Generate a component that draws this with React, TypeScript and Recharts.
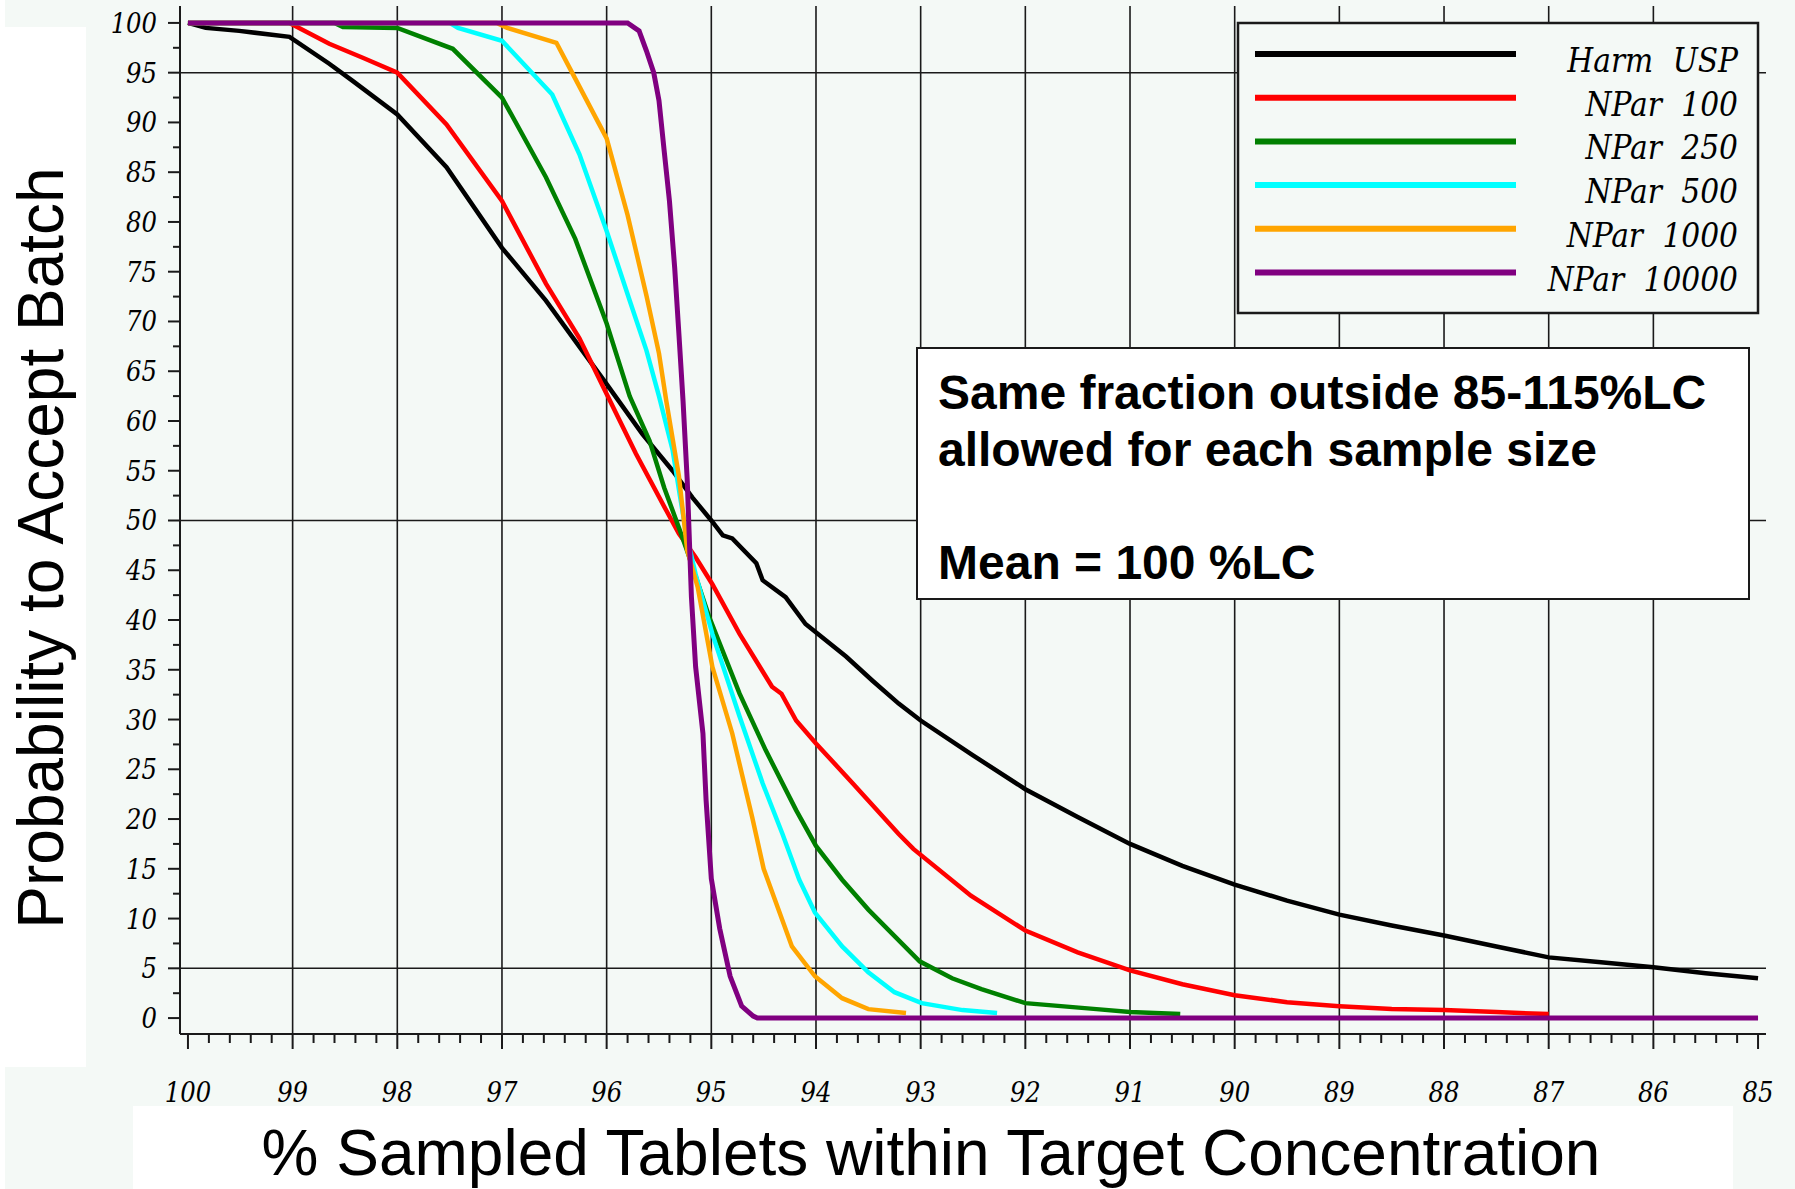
import { LineChart, Line, XAxis, YAxis, CartesianGrid } from 'recharts';

const W = 1795;
const H = 1189;
const ink = '#1a1a1a';
const mint = '#f4f9f6';
const tickFont = "'DejaVu Serif Condensed', 'DejaVu Serif', serif";
const titleFont = "'Liberation Sans', Arial, sans-serif";

const harmUsp = [
  [100, 100], [99.83, 99.5], [99.51, 99.2], [99.03, 98.6], [98.65, 95.9], [98.43, 94.2],
  [98.0, 90.8], [97.53, 85.5], [97.0, 77.4], [96.58, 72.1], [96.0, 63.7], [95.66, 58.7],
  [95.37, 55.0], [95.18, 52.3], [95.0, 50.0], [94.89, 48.5], [94.8, 48.2], [94.57, 45.7],
  [94.51, 44.0], [94.29, 42.3], [94.1, 39.6], [93.71, 36.3], [93.46, 33.9], [93.21, 31.6],
  [93.0, 29.9], [92.5, 26.4], [92.0, 23.0], [91.5, 20.2], [91.0, 17.5], [90.5, 15.3],
  [90.0, 13.4], [89.5, 11.8], [89.0, 10.4], [88.5, 9.3], [88.0, 8.3], [87.5, 7.2],
  [87.0, 6.1], [86.5, 5.6], [86.0, 5.1], [85.5, 4.5], [85.0, 4.0],
];

const npar100 = [
  [100, 100], [99.03, 100], [98.65, 97.9], [98.33, 96.5], [98.0, 95.0], [97.53, 89.8],
  [97.0, 82.1], [96.58, 73.8], [96.26, 68.3], [96.0, 62.7], [95.72, 56.7], [95.43, 51.0],
  [95.31, 48.7], [95.15, 46.3], [94.99, 43.6], [94.73, 38.6], [94.42, 33.3], [94.33, 32.6],
  [94.19, 29.9], [94.0, 27.6], [93.65, 23.6], [93.21, 18.5], [93.07, 17.0], [92.52, 12.3],
  [92.0, 8.8], [91.5, 6.6], [91.0, 4.8], [90.5, 3.4], [90.0, 2.3], [89.5, 1.6],
  [89.0, 1.2], [88.5, 0.9], [88.0, 0.8], [87.5, 0.6], [87.0, 0.4],
];

const npar250 = [
  [100, 100], [98.6, 100], [98.52, 99.6], [98.0, 99.5], [97.47, 97.4], [97.0, 92.5],
  [96.58, 84.5], [96.3, 78.3], [96.0, 69.8], [95.78, 62.5], [95.59, 58.0], [95.45, 53.3],
  [95.3, 49.0], [95.21, 46.3], [95.02, 40.3], [94.73, 32.6], [94.48, 26.9], [94.19, 20.9],
  [94.0, 17.3], [93.75, 13.9], [93.5, 10.9], [93.01, 5.7], [92.7, 4.0], [92.42, 2.9],
  [92.0, 1.5], [91.32, 0.9], [91.0, 0.6], [90.52, 0.4],
];

const npar500 = [
  [100, 100], [97.5, 100], [97.42, 99.5], [97.0, 98.2], [96.52, 92.8], [96.26, 86.8],
  [96.0, 79.1], [95.78, 72.1], [95.62, 67.1], [95.5, 62.5], [95.37, 57.1], [95.3, 52.5],
  [95.24, 48.7], [95.15, 44.6], [94.99, 38.6], [94.73, 30.3], [94.51, 23.6], [94.32, 18.5],
  [94.16, 13.9], [94.01, 10.6], [93.75, 7.2], [93.5, 4.6], [93.25, 2.6], [92.99, 1.5],
  [92.6, 0.8], [92.27, 0.5],
];

const npar1000 = [
  [100, 100], [97.05, 100], [96.95, 99.5], [96.48, 98.0], [96.32, 94.8], [96.0, 88.4],
  [95.8, 80.7], [95.62, 72.6], [95.5, 66.8], [95.43, 62.0], [95.31, 54.5], [95.23, 47.0],
  [95.13, 43.3], [94.99, 35.3], [94.8, 28.6], [94.61, 20.2], [94.5, 15.0], [94.23, 7.2],
  [94.01, 4.2], [93.75, 2.0], [93.5, 0.9], [93.14, 0.5],
];

const npar10000 = [
  [100, 100], [95.8, 100], [95.69, 99.2], [95.62, 97.2], [95.55, 95.0], [95.5, 92.2],
  [95.45, 87.1], [95.4, 82.1], [95.35, 75.4], [95.31, 68.8], [95.27, 62.0], [95.23, 54.0],
  [95.19, 42.3], [95.15, 35.3], [95.08, 28.6], [95.05, 21.9], [95.0, 14.0], [94.92, 9.0],
  [94.82, 4.2], [94.71, 1.2], [94.6, 0.2], [94.56, 0], [85.0, 0],
];

const seriesNames = ['Harm USP', 'NPar 100', 'NPar 250', 'NPar 500', 'NPar 1000', 'NPar 10000'];
const seriesColors = ['#000000', '#ff0000', '#008000', '#00ffff', '#ffa500', '#800080'];
const seriesPoints = [harmUsp, npar100, npar250, npar500, npar1000, npar10000];

const xMajorTicks = [100, 99, 98, 97, 96, 95, 94, 93, 92, 91, 90, 89, 88, 87, 86, 85];
const yMajorTicks = [0, 5, 10, 15, 20, 25, 30, 35, 40, 45, 50, 55, 60, 65, 70, 75, 80, 85, 90, 95, 100];
const xGridValues = [99, 98, 97, 96, 95, 94, 93, 92, 91, 90, 89, 88, 87, 86];
const yGridValues = [5, 50, 95];

const noteLines = ['Same fraction outside 85-115%LC', 'allowed for each sample size', '', 'Mean = 100 %LC'];

// minor ticks: 5 per unit on x, every 2.5 on y
const xTicks: number[] = [];
xMajorTicks.forEach((t, i) => {
  xTicks.push(t);
  if (i < xMajorTicks.length - 1) {
    for (let k = 1; k < 5; k++) xTicks.push(Math.round((t - k * 0.2) * 10) / 10);
  }
});
const yTicks: number[] = [];
yMajorTicks.forEach((t, i) => {
  yTicks.push(t);
  if (i < yMajorTicks.length - 1) yTicks.push(t + 2.5);
});

const lineData = seriesPoints.map((pts) => pts.map(([x, y]) => ({ x, y })));

function YTick(props: any) {
  const { x, y, payload } = props;
  const v = payload.value;
  const major = v % 5 === 0;
  return (
    <g>
      <line x1={x - (major ? 12 : 7)} y1={y} x2={x} y2={y} stroke={ink} strokeWidth={2} />
      {major && (
        <text
          x={x - 23}
          y={y + 10}
          textAnchor="end"
          fontFamily={tickFont}
          fontStyle="italic"
          fontSize={27}
          fill="#000"
          style={{ fontStretch: 'condensed' }}
        >
          {v}
        </text>
      )}
    </g>
  );
}

function XTick(props: any) {
  const { x, y, payload } = props;
  const v = payload.value;
  const major = Number.isInteger(v);
  return (
    <g>
      <line x1={x} y1={y} x2={x} y2={y + (major ? 15 : 9)} stroke={ink} strokeWidth={2} />
      {major && (
        <text
          x={x}
          y={y + 68}
          textAnchor="middle"
          fontFamily={tickFont}
          fontStyle="italic"
          fontSize={27}
          fill="#000"
          style={{ fontStretch: 'condensed' }}
        >
          {v}
        </text>
      )}
    </g>
  );
}

export default function App() {
  return (
    <div style={{ position: 'absolute', left: 0, top: 0, width: W, height: H, background: '#fff', overflow: 'hidden' }}>
      {/* background panels */}
      <div style={{ position: 'absolute', left: 5, top: 0, width: W - 5, height: H, background: mint }} />
      <div style={{ position: 'absolute', left: 0, top: 27, width: 86, height: 1040, background: '#fff' }} />
      <div style={{ position: 'absolute', left: 133, top: 1106, width: 1600, height: 83, background: '#fff' }} />

      <div style={{ position: 'absolute', left: 0, top: 0 }}>
        <LineChart width={W} height={H} margin={{ top: 6, right: 29, bottom: 95, left: 100 }}>
          <CartesianGrid
            horizontalValues={yGridValues}
            verticalValues={xGridValues}
            stroke={ink}
            strokeWidth={1.6}
            strokeOpacity={1}
          />
          <XAxis
            type="number"
            dataKey="x"
            domain={[84.924, 100.076]}
            reversed
            allowDataOverflow
            ticks={xTicks}
            interval={0}
            tickSize={0}
            tickMargin={0}
            tickLine={false}
            tick={<XTick />}
            axisLine={{ stroke: ink, strokeWidth: 2 }}
            height={60}
          />
          <XAxis
            xAxisId="top"
            orientation="top"
            type="number"
            dataKey="x"
            domain={[84.924, 100.076]}
            reversed
            allowDataOverflow
            tick={false}
            tickLine={false}
            axisLine={{ stroke: ink, strokeWidth: 2 }}
            height={0}
          />
          <YAxis
            type="number"
            dataKey="y"
            domain={[-1.6, 101.7]}
            allowDataOverflow
            ticks={yTicks}
            interval={0}
            tickSize={0}
            tickMargin={0}
            tickLine={false}
            tick={<YTick />}
            axisLine={{ stroke: ink, strokeWidth: 2 }}
            width={80}
          />
          <YAxis
            yAxisId="right"
            orientation="right"
            type="number"
            domain={[-1.6, 101.7]}
            allowDataOverflow
            tick={false}
            tickLine={false}
            axisLine={{ stroke: ink, strokeWidth: 2 }}
            width={0}
          />
          {lineData.map((d, i) => (
            <Line
              key={seriesNames[i]}
              data={d}
              dataKey="y"
              type="linear"
              stroke={seriesColors[i]}
              strokeWidth={i === 5 ? 5 : 4.5}
              dot={false}
              activeDot={false}
              isAnimationActive={false}
            />
          ))}
        </LineChart>
      </div>

      <svg width={W} height={H} style={{ position: 'absolute', left: 0, top: 0, pointerEvents: 'none' }}>
        {/* legend */}
        <rect x={1238} y={23} width={520} height={290} fill={mint} stroke={ink} strokeWidth={2.5} />
        {seriesNames.map((name, i) => {
          const ly = 54 + i * 43.7;
          return (
            <g key={name}>
              <line x1={1255} x2={1516} y1={ly} y2={ly} stroke={seriesColors[i]} strokeWidth={6} />
              <text
                x={1738}
                y={ly + 18}
                textAnchor="end"
                fontFamily={tickFont}
                fontStyle="italic"
                fontSize={33}
                wordSpacing={10}
                fill="#000"
                style={{ fontStretch: 'condensed' }}
              >
                {name}
              </text>
            </g>
          );
        })}

        {/* note box */}
        <rect x={917} y={348} width={832} height={251} fill="#fff" stroke={ink} strokeWidth={2} />
        {noteLines.map((t, i) => (
          <text
            key={i}
            x={938}
            y={409 + i * 56.7}
            fontFamily={titleFont}
            fontWeight="bold"
            fontSize={48}
            fill="#000"
          >
            {t}
          </text>
        ))}

        {/* axis titles */}
        <text
          x={931}
          y={1175}
          textAnchor="middle"
          fontFamily={titleFont}
          fontSize={64}
          fill="#000"
        >
          % Sampled Tablets within Target Concentration
        </text>
        <text
          transform="translate(63, 548) rotate(-90)"
          textAnchor="middle"
          fontFamily={titleFont}
          fontSize={64}
          fill="#000"
        >
          Probability to Accept Batch
        </text>
      </svg>
    </div>
  );
}
